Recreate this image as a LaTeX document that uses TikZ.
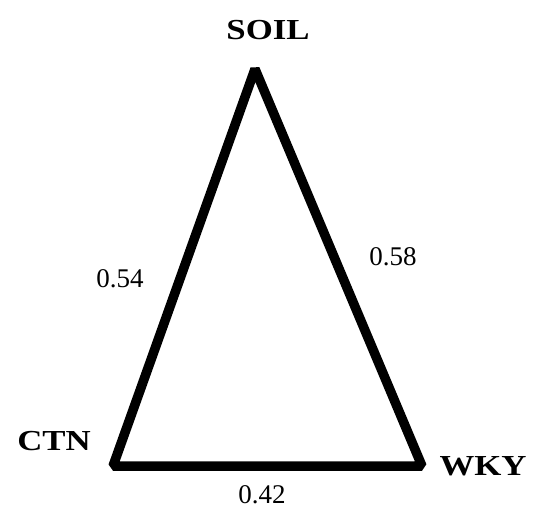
\documentclass[tikz,border=0pt]{standalone}
\usepackage{fontspec}
\setmainfont{Liberation Serif}
\usetikzlibrary{positioning}

\begin{document}
\begin{tikzpicture}[
  x=1pt, y=-1pt,
  side/.style={draw, line width=9.5pt, line join=bevel},
  vert/.style={font=\fontsize{29}{29}\selectfont\bfseries, inner sep=0pt},
  wgt/.style={font=\fontsize{27}{27}\selectfont, inner sep=0pt},
]
  \useasboundingbox (0,0) rectangle (537,512);

  % Vertices
  \coordinate (soil) at (255,69);
  \coordinate (ctn)  at (113,466);
  \coordinate (wky)  at (422,466);

  \node[vert] (soillbl) at (268,30)  {\scalebox{1.2}[1]{SOIL}};
  \node[vert] (ctnlbl)  at (54,441)  {\scalebox{1.2}[1]{CTN}};
  \node[vert] (wkylbl)  at (483,466) {\scalebox{1.2}[1]{WKY}};

  % Weights
  \node[wgt] (w1) at (120,279) {0.54};
  \node[wgt] (w2) at (393,257) {0.58};
  \node[wgt] (w3) at (262,495) {0.42};

  \draw[side] (soil) -- (ctn) -- (wky) -- cycle;
\end{tikzpicture}
\end{document}
